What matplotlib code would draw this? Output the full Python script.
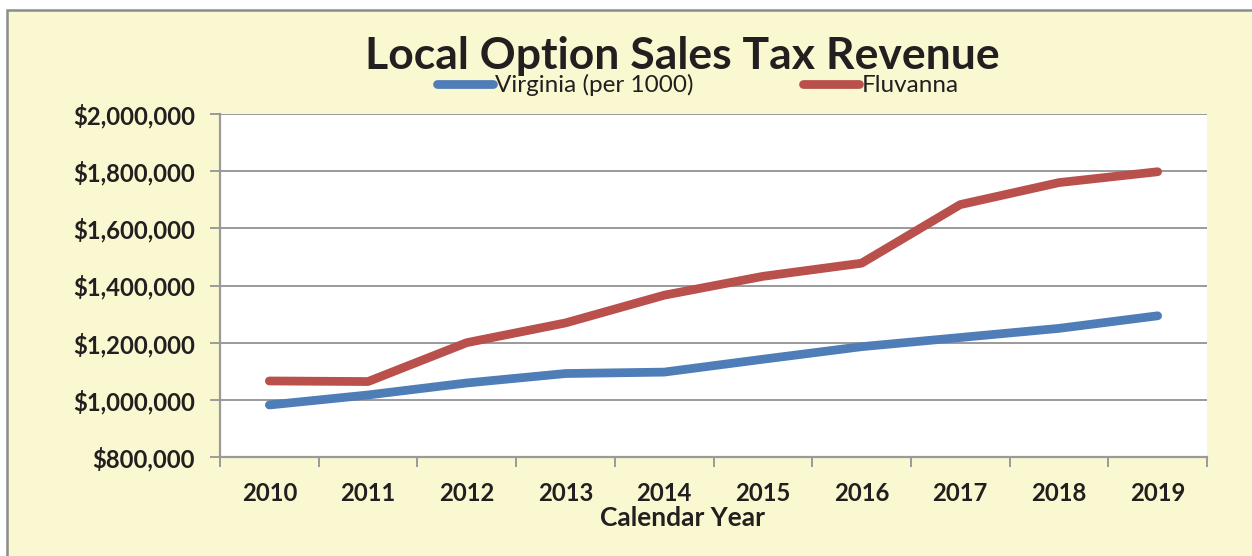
import matplotlib
matplotlib.use("Agg")
import matplotlib.pyplot as plt
from matplotlib.patches import Rectangle
from matplotlib.ticker import FuncFormatter, FixedLocator

# values
years = ["2010", "2011", "2012", "2013", "2014", "2015", "2016", "2017", "2018", "2019"]
virginia = [982000, 1017000, 1059000, 1092000, 1097000, 1142000, 1186000, 1218000, 1250000, 1294000]
fluvanna = [1066000, 1064000, 1200000, 1269000, 1366000, 1432000, 1478000, 1683000, 1760000, 1798000]
y_ticks = [800000, 1000000, 1200000, 1400000, 1600000, 1800000, 2000000]

plt.rcParams['font.family'] = ['Lato', 'DejaVu Sans']

BG = "#FAF8D0"
GRID = "#9A9A9A"
INK = "#231F20"

fig = plt.figure(figsize=(12.52, 5.56), dpi=100)
fig.patch.set_facecolor("white")
# chart frame, runs off the right and bottom edge like the screenshot
fig.patches.append(Rectangle((7 / 1252, -0.05), 1.1, 1 - 10 / 556 + 0.05,
                             transform=fig.transFigure, facecolor=BG,
                             edgecolor="#8C8C8C", linewidth=1.8, zorder=-1))

ax = fig.add_axes([220 / 1252, 1 - 457 / 556, 987 / 1252, 343 / 556])
ax.set_facecolor("white")

x = list(range(len(years)))
ax.plot(x, virginia, color="#4F7DB8", lw=6.3, solid_capstyle="round",
        solid_joinstyle="round", label="Virginia (per 1000)", zorder=3)
ax.plot(x, fluvanna, color="#B9504C", lw=6.3, solid_capstyle="round",
        solid_joinstyle="round", label="Fluvanna", zorder=3)

ax.set_xlim(-0.5, len(years) - 0.5)
ax.set_ylim(y_ticks[0], y_ticks[-1])

ax.set_yticks(y_ticks)
ax.yaxis.set_major_formatter(FuncFormatter(lambda v, p: "${:,.0f}".format(v)))
ax.grid(axis="y", color=GRID, lw=1.4, zorder=1)

# category labels in the middle, tick marks on the boundaries
ax.set_xticks(x)
ax.set_xticklabels(years)
ax.xaxis.set_minor_locator(FixedLocator([i - 0.5 for i in range(len(years) + 1)]))
ax.tick_params(axis="x", which="major", length=0, pad=18)
ax.tick_params(axis="x", which="minor", length=7, width=1.4, color=GRID, direction="out")
ax.tick_params(axis="y", length=7, width=1.4, color=GRID, pad=11)

for lab in ax.get_xticklabels() + ax.get_yticklabels():
    lab.set_fontweight("bold")
    lab.set_fontsize(17.2)
    lab.set_color(INK)

for s in ["top", "right"]:
    ax.spines[s].set_visible(False)
for s in ["left", "bottom"]:
    ax.spines[s].set_color(GRID)
    ax.spines[s].set_linewidth(1.6)

ax.set_xlabel("Calendar Year", fontsize=19, fontweight="bold", color=INK)
ax.xaxis.set_label_coords((682 - 220) / 987, -(518 - 457) / 343)
ax.xaxis.label.set_va("center")

fig.text(682 / 1252, 1 - 56 / 556, "Local Option Sales Tax Revenue", ha="center", va="center",
         fontsize=32, fontweight="bold", color=INK)

leg = ax.legend(loc="center", bbox_to_anchor=(698 / 1252, 1 - 85 / 556),
                bbox_transform=fig.transFigure, ncol=2, frameon=False,
                fontsize=17.5, handlelength=2.3, handletextpad=0.1,
                columnspacing=4.5, borderpad=0)
for t in leg.get_texts():
    t.set_color(INK)

fig.savefig("out.png", dpi=100, facecolor=fig.get_facecolor())
